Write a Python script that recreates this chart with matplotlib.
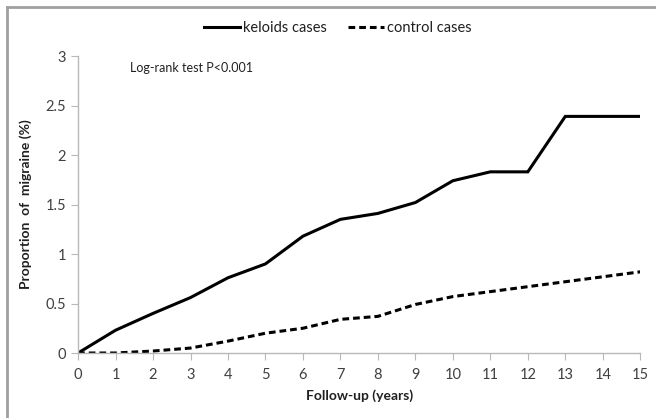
import matplotlib
matplotlib.use("Agg")
import matplotlib.pyplot as plt
from matplotlib.lines import Line2D

# data
years = list(range(16))
keloids = [0, 0.23, 0.40, 0.56, 0.76, 0.90, 1.18, 1.35, 1.41, 1.52,
           1.74, 1.83, 1.83, 2.39, 2.39, 2.39]
control = [0, 0.0, 0.02, 0.05, 0.12, 0.20, 0.25, 0.34, 0.37, 0.49,
           0.57, 0.62, 0.67, 0.72, 0.77, 0.82]
yticks = [0, 0.5, 1, 1.5, 2, 2.5, 3]
ytick_labels = ["0", "0.5", "1", "1.5", "2", "2.5", "3"]

plt.rcParams['font.family'] = ['Lato', 'DejaVu Sans']

fig = plt.figure(figsize=(6.56, 4.18), dpi=100)
ax = fig.add_axes([0.119, 0.1555, 0.857, 0.7105])

ax.plot(years, keloids, color='black', lw=2.2, solid_joinstyle='miter',
        label='keloids cases')
ax.plot(years, control, color='black', lw=2.2, ls=(0, (2.2, 1.3)),
        label='control cases')

ax.set_xlim(0, 15)
ax.set_ylim(0, 3)
ax.set_xticks(years)
ax.set_yticks(yticks)
ax.set_yticklabels(ytick_labels)

for side in ['top', 'right']:
    ax.spines[side].set_visible(False)
for side in ['left', 'bottom']:
    ax.spines[side].set_color('#b8b8b8')
    ax.spines[side].set_linewidth(1)
ax.tick_params(colors='#b8b8b8', labelcolor='#404040', labelsize=10.5,
               length=5, direction='out')
ax.tick_params(axis='x', pad=6)

ax.set_xlabel('Follow-up (years)', fontsize=10, fontweight='bold',
              color='#202020', labelpad=5)
ax.set_ylabel('Proportion  of  migraine (%)', fontsize=10, fontweight='bold',
              color='#202020', labelpad=10)

ax.text(1.39, 2.88, 'Log-rank test P<0.001', fontsize=9, color='#202020',
        va='center', ha='left')

fig.legend(loc='center', bbox_to_anchor=(0.515, 0.933), ncol=2, frameon=False,
           fontsize=10.5, handlelength=2.5, handletextpad=0.2,
           columnspacing=1.4, labelcolor='#202020')

# outer gray frame (top and left edges visible)
fig.add_artist(Line2D([0.011, 1.0], [0.984, 0.984], color='#a0a0a0', lw=2,
                      transform=fig.transFigure))
fig.add_artist(Line2D([0.011, 0.011], [0.0, 0.984], color='#a0a0a0', lw=2,
                      transform=fig.transFigure))

fig.savefig('out.png', dpi=100)
